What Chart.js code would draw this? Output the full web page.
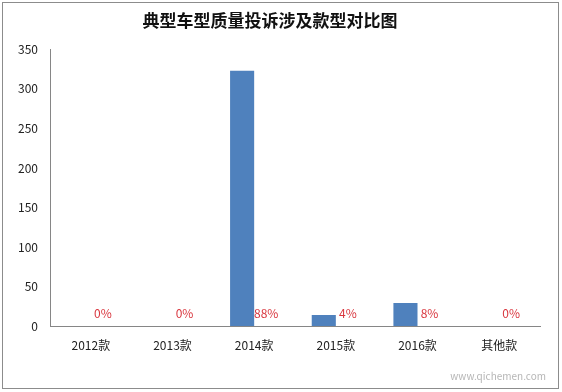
<!DOCTYPE html>
<html>
<head>
<meta charset="utf-8">
<script src="https://cdn.jsdelivr.net/npm/chart.js@4/dist/chart.umd.min.js"></script>
<style>
  html, body { margin: 0; padding: 0; background: #fff; }
  #wrap { width: 562px; height: 392px; position: relative; }
</style>
</head>
<body>
<div id="wrap"><canvas id="c" width="562" height="392"></canvas></div>
<script>
const categories = ["2012款", "2013款", "2014款", "2015款", "2016款", "其他款"];
const complaints = [0, 0, 323, 14, 29, 0];
const shares = [0, 0, 0.88, 0.04, 0.08, 0];
const shareLabels = ["0%", "0%", "88%", "4%", "8%", "0%"];
const yTicks = [0, 50, 100, 150, 200, 250, 300, 350];

const FONT = '"Noto Sans CJK SC", "Noto Sans", sans-serif';

const frame = {
  id: "frame",
  beforeDraw(chart) {
    const ctx = chart.ctx;
    ctx.save();
    ctx.fillStyle = "#fff";
    ctx.fillRect(0, 0, chart.width, chart.height);
    ctx.strokeStyle = "#8c8c8c";
    ctx.lineWidth = 1;
    ctx.strokeRect(2.5, 2.5, chart.width - 6, chart.height - 6);
    ctx.restore();
  },
  afterDraw(chart) {
    const ctx = chart.ctx;
    ctx.save();
    ctx.fillStyle = "rgba(120,120,120,0.55)";
    ctx.font = "10px " + FONT;
    ctx.textAlign = "right";
    ctx.fillText("www.qichemen.com", 546, 380);
    ctx.restore();
  },
};

const pctLabels = {
  id: "pctLabels",
  afterDatasetsDraw(chart) {
    const ctx = chart.ctx;
    const meta = chart.getDatasetMeta(1);
    const y0 = chart.scales.y.getPixelForValue(0);
    ctx.save();
    ctx.fillStyle = "#d9363e";
    ctx.font = "12px " + FONT;
    ctx.textAlign = "center";
    ctx.textBaseline = "middle";
    meta.data.forEach((bar, i) => {
      ctx.fillText(shareLabels[i], bar.x, y0 - 13);
    });
    ctx.restore();
  },
};

new Chart(document.getElementById("c"), {
  type: "bar",
  data: {
    labels: categories,
    datasets: [
      {
        label: "投诉量",
        data: complaints,
        backgroundColor: "#4f81bd",
        barPercentage: 1,
        categoryPercentage: 0.59,
      },
      {
        label: "占比",
        data: shares,
        backgroundColor: "rgba(0,0,0,0)",
        barPercentage: 1,
        categoryPercentage: 0.59,
      },
    ],
  },
  plugins: [frame, pctLabels],
  options: {
    responsive: false,
    animation: false,
    layout: { padding: { left: 0, right: 22, top: 0, bottom: 0 } },
    plugins: {
      legend: { display: false },
      tooltip: { enabled: false },
      title: {
        display: true,
        text: "典型车型质量投诉涉及款型对比图",
        color: "#111",
        font: { family: FONT, size: 17, weight: "bold" },
        padding: { top: 10, bottom: 19 },
      },
    },
    scales: {
      x: {
        grid: { display: false, drawTicks: false },
        border: { color: "#868686" },
        ticks: { color: "#222", font: { family: FONT, size: 12 }, padding: 12, maxRotation: 0 },
        afterFit: (s) => { s.height = 66; },
      },
      y: {
        min: 0,
        max: 350,
        grid: { display: false, drawTicks: false },
        border: { color: "#868686" },
        afterBuildTicks: (s) => { s.ticks = yTicks.map((v) => ({ value: v })); },
        ticks: { color: "#222", font: { family: FONT, size: 12 }, padding: 12 },
        afterFit: (s) => { s.width = 50; },
      },
    },
  },
});
</script>
</body>
</html>
